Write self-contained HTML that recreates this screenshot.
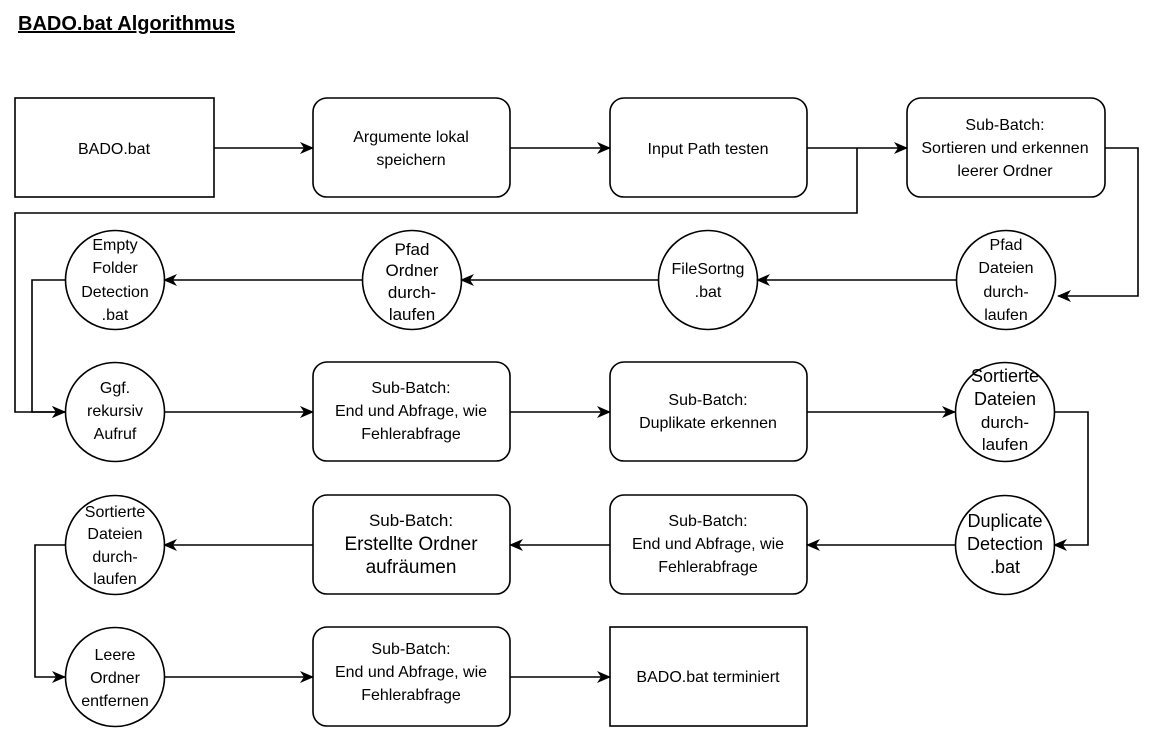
<!DOCTYPE html>
<html><head><meta charset="utf-8"><style>
body{margin:0;background:#fff;}
svg{display:block;font-family:"Liberation Sans",Arial,sans-serif;}
</style></head><body>
<svg width="1156" height="741" viewBox="0 0 1156 741" xmlns="http://www.w3.org/2000/svg">
<defs><marker id="a" markerWidth="14" markerHeight="12" refX="13" refY="6" orient="auto" markerUnits="userSpaceOnUse"><path d="M0,0 L14,6 L0,12 L4,6 Z" fill="#000"/></marker></defs>
<text x="18" y="30" font-size="20" font-weight="bold" text-decoration="underline">BADO.bat Algorithmus</text>
<g fill="none" stroke="#000" stroke-width="1.6">
<rect x="15" y="98" width="199" height="99"/>
<rect x="313" y="98" width="197" height="99" rx="14"/>
<rect x="610" y="98" width="197" height="99" rx="14"/>
<rect x="907" y="98" width="198" height="99" rx="14"/>
<circle cx="115" cy="280" r="49.5"/><circle cx="412" cy="280" r="49.5"/><circle cx="708" cy="280" r="49.5"/><circle cx="1006" cy="280" r="49.5"/>
<circle cx="115" cy="412" r="49.5"/>
<rect x="313" y="362" width="197" height="99" rx="14"/>
<rect x="610" y="362" width="197" height="99" rx="14"/>
<circle cx="1005" cy="412" r="49.5"/>
<circle cx="115" cy="545" r="49.5"/>
<rect x="313" y="495" width="197" height="99" rx="14"/>
<rect x="610" y="495" width="197" height="99" rx="14"/>
<circle cx="1005" cy="545" r="49.5"/>
<circle cx="115" cy="677" r="49.5"/>
<rect x="313" y="627" width="197" height="99" rx="14"/>
<rect x="610" y="627" width="197" height="99"/>
<g marker-end="url(#a)">
<path d="M214,148H313"/><path d="M510,148H610"/><path d="M807,148H907"/>
<path d="M857,148V213H15V412H65"/>
<path d="M1105,148H1138V296H1058"/>
<path d="M956,280H757"/><path d="M659,280H461"/><path d="M363,280H164"/>
<path d="M65,280H32V412H65"/>
<path d="M164,412H313"/><path d="M510,412H610"/><path d="M807,412H955"/>
<path d="M1054,412H1088V545H1054"/>
<path d="M956,545H807"/><path d="M610,545H510"/><path d="M313,545H164"/>
<path d="M65,545H35V677H65"/>
<path d="M164,677H313"/><path d="M510,677H610"/>
</g></g>
<g font-size="16" text-anchor="middle" fill="#000">
<text x="114" y="154">BADO.bat</text>
<text x="411" y="142">Argumente lokal</text><text x="411" y="165">speichern</text>
<text x="708" y="154">Input Path testen</text>
<text x="1005" y="130">Sub-Batch:</text><text x="1005" y="153">Sortieren und erkennen</text><text x="1005" y="176">leerer Ordner</text>
<text x="115" y="250">Empty</text><text x="115" y="273">Folder</text><text x="115" y="297">Detection</text><text x="115" y="320">.bat</text>
<text x="412" y="255" font-size="17">Pfad</text><text x="412" y="276" font-size="17">Ordner</text><text x="412" y="298" font-size="17">durch-</text><text x="412" y="320" font-size="17">laufen</text>
<text x="708" y="274">FileSortng</text><text x="708" y="297">.bat</text>
<text x="1006" y="250">Pfad</text><text x="1006" y="273">Dateien</text><text x="1006" y="297">durch-</text><text x="1006" y="320">laufen</text>
<text x="115" y="393">Ggf.</text><text x="115" y="416">rekursiv</text><text x="115" y="439">Aufruf</text>
<text x="411" y="393">Sub-Batch:</text><text x="411" y="416">End und Abfrage, wie</text><text x="411" y="439">Fehlerabfrage</text>
<text x="708" y="405">Sub-Batch:</text><text x="708" y="428">Duplikate erkennen</text>
<text x="1005" y="382" font-size="18">Sortierte</text><text x="1005" y="405" font-size="18">Dateien</text><text x="1005" y="428" font-size="17">durch-</text><text x="1005" y="450" font-size="17">laufen</text>
<text x="115" y="517">Sortierte</text><text x="115" y="539">Dateien</text><text x="115" y="562">durch-</text><text x="115" y="584">laufen</text>
<text x="411" y="526" font-size="17">Sub-Batch:</text><text x="411" y="550" font-size="19">Erstellte Ordner</text><text x="411" y="573" font-size="19">aufräumen</text>
<text x="708" y="526">Sub-Batch:</text><text x="708" y="549">End und Abfrage, wie</text><text x="708" y="572">Fehlerabfrage</text>
<text x="1005" y="527" font-size="18">Duplicate</text><text x="1005" y="550" font-size="18">Detection</text><text x="1005" y="573" font-size="18">.bat</text>
<text x="115" y="660">Leere</text><text x="115" y="683">Ordner</text><text x="115" y="706">entfernen</text>
<text x="411" y="654">Sub-Batch:</text><text x="411" y="677">End und Abfrage, wie</text><text x="411" y="700">Fehlerabfrage</text>
<text x="708" y="682">BADO.bat  terminiert</text>
</g>
</svg>
</body></html>
